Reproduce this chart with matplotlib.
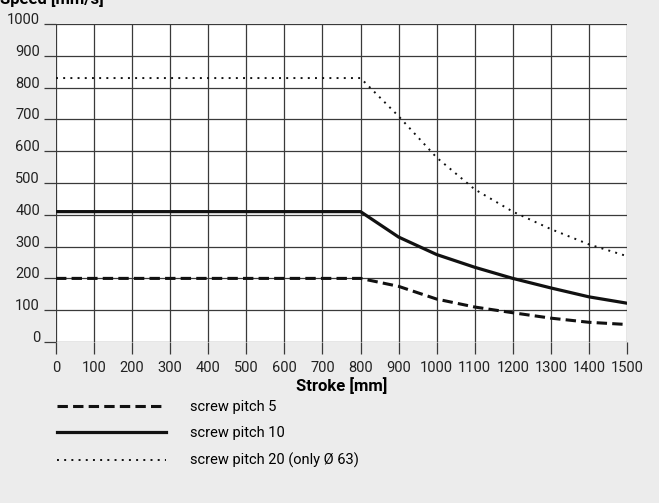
import matplotlib
matplotlib.use("Agg")
import matplotlib.pyplot as plt

plt.rcParams['font.family'] = ['Roboto', 'DejaVu Sans']

# data
stroke = [0, 800, 900, 1000, 1100, 1200, 1300, 1400, 1500]
pitch5 = [200, 200, 175, 135, 110, 92, 75, 62, 55]
pitch10 = [410, 410, 330, 275, 235, 200, 170, 142, 122]
pitch20 = [830, 830, 710, 580, 480, 410, 355, 307, 270]
labels = ['screw pitch 5', 'screw pitch 10', 'screw pitch 20 (only Ø 63)']
xticks = list(range(0, 1501, 100))
yticks = list(range(0, 1001, 100))

bg = '#ececec'
fig = plt.figure(figsize=(6.59, 5.03), dpi=100, facecolor=bg)
ax = fig.add_axes([56/659, 1-342/503, 571/659, 318/503])
ax.set_facecolor('white')

ax.plot(stroke, pitch5, color='#111111', lw=2.2, dashes=(3.4, 1.7), label=labels[0])
ax.plot(stroke, pitch10, color='#111111', lw=2.3, label=labels[1])
ax.plot(stroke, pitch20, color='#111111', lw=1.4, dashes=(1, 2.7), label=labels[2])

ax.set_xlim(0, 1500)
ax.set_ylim(0, 1000)
ax.set_xticks(xticks)
ax.set_yticks(yticks)
ax.grid(True, color='#3a3a3a', lw=0.9)
ax.set_axisbelow(True)
for s in ax.spines.values():
    s.set_visible(False)
ax.tick_params(axis='x', length=8.5, width=0.9, color='#3a3a3a', pad=5,
               labelsize=10.5, labelcolor='#222222')
ax.tick_params(axis='y', length=8.5, width=0.9, color='#3a3a3a', pad=3,
               labelsize=10.5, labelcolor='#222222')
# y labels sit on their grid line
for lbl in ax.get_yticklabels():
    lbl.set_verticalalignment('baseline')

ax.set_xlabel('Stroke [mm]', fontsize=12, fontweight='bold', labelpad=2)
fig.text(0.0, 1-4/503, 'Speed [mm/s]', fontsize=12, fontweight='bold',
         va='baseline', ha='left')

leg = ax.legend(loc='upper left', bbox_to_anchor=(57/659, 1-400/503),
                bbox_transform=fig.transFigure, frameon=False, borderpad=0,
                borderaxespad=0, handlelength=7.5, handletextpad=1.6,
                labelspacing=0.85, fontsize=10.5)

fig.savefig('out.png', dpi=100, facecolor=bg)
